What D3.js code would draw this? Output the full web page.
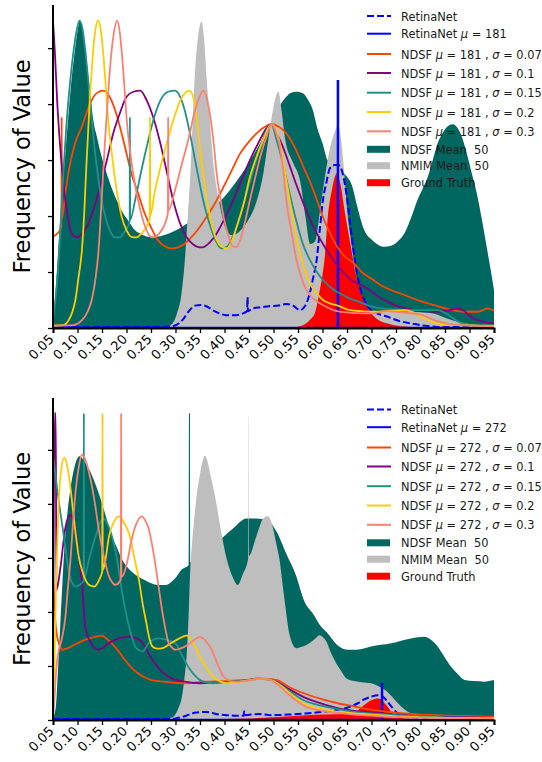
<!DOCTYPE html>
<html>
<head>
<meta charset="utf-8">
<script src="https://cdn.jsdelivr.net/npm/d3@7"></script>
<style>
  body { margin: 0; background: #fff; }
  svg { display: block; font-family: "DejaVu Sans", sans-serif; }
</style>
</head>
<body>
<svg id="chart" width="542" height="762"></svg>
<script>
// ---- x ticks (score threshold) ----
const xTicks = [0.05, 0.10, 0.15, 0.20, 0.25, 0.30, 0.35, 0.40, 0.45, 0.50,
                0.55, 0.60, 0.65, 0.70, 0.75, 0.80, 0.85, 0.90, 0.95];
const yTicks = [0, 1, 2, 3, 4, 5];
const sigmas = ["0.07", "0.1", "0.15", "0.2", "0.3"];
const muTop = 181, muBottom = 272;

// ---- upper panel series: [score, frequency] ----
const topNdsfMean = [[0.05,0.1],[0.053,0.4],[0.06,1.3],[0.0675,2.29],[0.075,3.1],[0.0812,3.77],[0.088,4.45],[0.0947,4.96],[0.1,5.3],[0.105,5.49],[0.11,5.35],[0.1153,5.02],[0.1255,4.25],[0.1323,3.71],[0.14,3.4],[0.1493,3.06],[0.16,2.75],[0.169,2.52],[0.18,2.28],[0.19,2.1],[0.205,1.9],[0.217,1.75],[0.23,1.68],[0.244,1.63],[0.26,1.63],[0.278,1.66],[0.30,1.74],[0.319,1.84],[0.34,1.95],[0.36,2.05],[0.38,2.18],[0.394,2.29],[0.41,2.45],[0.431,2.7],[0.45,2.95],[0.465,3.18],[0.48,3.42],[0.492,3.6],[0.505,3.85],[0.515,4.0],[0.526,4.13],[0.535,4.2],[0.547,4.22],[0.561,4.19],[0.57,4.08],[0.58,3.9],[0.59,3.55],[0.6,3.3],[0.61,3.0],[0.63,2.85],[0.65,2.7],[0.66,2.55],[0.67,2.2],[0.685,1.75],[0.70,1.58],[0.715,1.48],[0.726,1.45],[0.74,1.47],[0.755,1.56],[0.767,1.69],[0.78,1.95],[0.794,2.29],[0.805,2.5],[0.815,2.7],[0.825,3.0],[0.835,3.3],[0.845,3.48],[0.855,3.6],[0.866,3.64],[0.875,3.58],[0.885,3.4],[0.895,3.1],[0.905,2.75],[0.915,2.4],[0.925,1.95],[0.935,1.45],[0.943,1.05],[0.95,0.68]];
const topNmimMean = [[0.05,0.02],[0.28,0.02],[0.29,0.05],[0.303,0.26],[0.312,0.6],[0.319,1.2],[0.325,2.0],[0.33,2.7],[0.335,3.7],[0.34,4.6],[0.346,5.2],[0.353,5.47],[0.358,5.2],[0.364,4.4],[0.371,3.6],[0.378,2.88],[0.385,2.45],[0.391,2.17],[0.398,1.9],[0.405,1.72],[0.415,1.66],[0.43,1.72],[0.45,1.95],[0.465,2.25],[0.48,2.8],[0.49,3.4],[0.5,3.95],[0.51,4.22],[0.517,3.85],[0.524,3.36],[0.54,2.95],[0.555,2.6],[0.565,2.0],[0.575,1.5],[0.585,1.55],[0.595,2.1],[0.605,2.7],[0.615,3.2],[0.625,3.5],[0.632,3.63],[0.64,3.2],[0.645,2.7],[0.651,2.05],[0.66,1.45],[0.67,0.86],[0.68,0.5],[0.69,0.38],[0.70,0.3],[0.75,0.3],[0.80,0.28],[0.83,0.25],[0.86,0.15],[0.9,0.07],[0.95,0.04]];
const topGroundTruth = [[0.05,0],[0.50,0],[0.54,0.01],[0.56,0.05],[0.575,0.15],[0.585,0.28],[0.595,0.7],[0.60,0.95],[0.605,1.3],[0.61,1.9],[0.62,2.5],[0.629,2.76],[0.636,2.6],[0.645,2.1],[0.658,1.45],[0.668,0.95],[0.678,0.65],[0.69,0.4],[0.70,0.26],[0.715,0.14],[0.733,0.08],[0.76,0.03],[0.80,0.01],[0.95,0]];
const topRetina = [[0.05,0.02],[0.28,0.02],[0.30,0.05],[0.315,0.15],[0.329,0.32],[0.34,0.4],[0.352,0.41],[0.365,0.38],[0.376,0.32],[0.39,0.26],[0.403,0.23],[0.424,0.23],[0.44,0.27],[0.446,0.3],[0.447,0.55],[0.448,0.3],[0.457,0.35],[0.475,0.37],[0.491,0.39],[0.51,0.4],[0.526,0.43],[0.54,0.4],[0.554,0.32],[0.565,0.4],[0.574,0.62],[0.581,0.9],[0.588,1.21],[0.595,1.8],[0.601,2.29],[0.608,2.6],[0.615,2.85],[0.625,2.91],[0.632,2.91],[0.64,2.8],[0.645,2.6],[0.652,2.2],[0.658,1.75],[0.668,1.1],[0.678,0.68],[0.69,0.42],[0.699,0.32],[0.715,0.25],[0.733,0.2],[0.755,0.13],[0.781,0.08],[0.81,0.04],[0.835,0.02],[0.95,0.02]];
const topRetinaMu = [[0.05,0],[0.6315,0],[0.6315,4.43],[0.6315,0],[0.95,0]];
const topSig007 = [[0.05,1.63],[0.058,1.68],[0.0672,1.8],[0.0677,3.77],[0.0682,1.95],[0.075,2.4],[0.0825,2.82],[0.095,3.3],[0.109,3.6],[0.12,3.88],[0.129,4.07],[0.14,4.2],[0.153,4.24],[0.162,4.18],[0.169,4.07],[0.18,3.8],[0.19,3.48],[0.20,3.12],[0.21,2.76],[0.224,2.4],[0.237,2.05],[0.25,1.8],[0.264,1.57],[0.278,1.46],[0.292,1.42],[0.305,1.44],[0.318,1.5],[0.33,1.6],[0.345,1.75],[0.364,1.99],[0.38,2.22],[0.398,2.52],[0.415,2.82],[0.432,3.12],[0.45,3.33],[0.466,3.48],[0.48,3.58],[0.496,3.64],[0.51,3.6],[0.526,3.48],[0.545,3.2],[0.561,2.88],[0.575,2.6],[0.588,2.3],[0.60,2.0],[0.615,1.7],[0.63,1.45],[0.645,1.28],[0.665,1.15],[0.68,1.0],[0.70,0.88],[0.72,0.76],[0.745,0.66],[0.767,0.59],[0.80,0.48],[0.835,0.39],[0.86,0.33],[0.889,0.29],[0.917,0.29],[0.937,0.35],[0.95,0.31]];
const topSig01 = [[0.05,5.49],[0.054,4.9],[0.0584,4.07],[0.065,3.2],[0.072,2.52],[0.079,2.05],[0.0855,1.75],[0.092,1.65],[0.099,1.62],[0.108,1.67],[0.119,1.81],[0.132,2.1],[0.146,2.52],[0.16,3.0],[0.173,3.48],[0.187,3.85],[0.20,4.13],[0.214,4.22],[0.228,4.24],[0.241,4.07],[0.255,3.75],[0.269,3.3],[0.282,2.8],[0.295,2.29],[0.308,1.9],[0.322,1.63],[0.335,1.5],[0.345,1.45],[0.355,1.44],[0.37,1.53],[0.384,1.69],[0.40,1.95],[0.418,2.29],[0.435,2.65],[0.452,3.0],[0.47,3.32],[0.486,3.57],[0.496,3.64],[0.508,3.45],[0.519,3.24],[0.533,2.9],[0.547,2.55],[0.56,2.25],[0.574,1.95],[0.588,1.7],[0.601,1.5],[0.615,1.3],[0.63,1.12],[0.645,0.97],[0.66,0.85],[0.68,0.76],[0.699,0.66],[0.716,0.55],[0.733,0.47],[0.75,0.4],[0.767,0.36],[0.80,0.3],[0.835,0.29],[0.86,0.32],[0.876,0.35],[0.89,0.3],[0.903,0.2],[0.917,0.14],[0.93,0.11],[0.95,0.08]];
const topSig015 = [[0.05,0.15],[0.055,0.5],[0.06,1.0],[0.066,1.9],[0.072,2.9],[0.078,3.7],[0.085,4.4],[0.092,4.95],[0.098,5.3],[0.104,5.49],[0.11,5.35],[0.116,4.95],[0.122,4.4],[0.128,3.8],[0.135,3.2],[0.142,2.7],[0.15,2.25],[0.158,1.95],[0.167,1.72],[0.176,1.62],[0.186,1.62],[0.196,1.72],[0.2065,1.9],[0.207,3.77],[0.2075,1.93],[0.218,2.3],[0.23,2.8],[0.243,3.3],[0.256,3.75],[0.27,4.08],[0.285,4.22],[0.299,4.24],[0.31,4.12],[0.32,3.85],[0.33,3.45],[0.34,3.0],[0.35,2.55],[0.36,2.15],[0.37,1.85],[0.38,1.6],[0.394,1.42],[0.405,1.45],[0.418,1.65],[0.43,1.95],[0.445,2.4],[0.46,2.85],[0.475,3.28],[0.487,3.55],[0.496,3.64],[0.505,3.4],[0.519,2.95],[0.533,2.4],[0.547,1.9],[0.56,1.5],[0.574,1.22],[0.59,0.98],[0.605,0.82],[0.62,0.7],[0.635,0.62],[0.655,0.53],[0.68,0.45],[0.70,0.38],[0.73,0.34],[0.767,0.32],[0.80,0.32],[0.835,0.32],[0.85,0.27],[0.862,0.2],[0.88,0.1],[0.903,0.05],[0.95,0.03]];
const topSig02 = [[0.05,0.04],[0.07,0.05],[0.082,0.14],[0.09,0.3],[0.0957,0.5],[0.102,0.9],[0.109,1.39],[0.114,2.1],[0.118,2.88],[0.122,3.55],[0.125,4.07],[0.129,4.6],[0.132,4.96],[0.137,5.35],[0.142,5.49],[0.147,5.35],[0.152,4.96],[0.157,4.4],[0.162,3.77],[0.169,3.2],[0.176,2.7],[0.183,2.3],[0.19,1.99],[0.2,1.75],[0.21,1.63],[0.22,1.62],[0.23,1.68],[0.2475,1.95],[0.248,3.77],[0.2485,2.0],[0.257,2.4],[0.27,2.9],[0.284,3.36],[0.297,3.75],[0.31,4.07],[0.32,4.2],[0.328,4.24],[0.337,4.1],[0.344,3.7],[0.35,3.18],[0.357,2.7],[0.364,2.29],[0.374,1.85],[0.384,1.57],[0.395,1.45],[0.405,1.42],[0.415,1.55],[0.425,1.81],[0.44,2.25],[0.452,2.7],[0.465,3.05],[0.479,3.36],[0.496,3.64],[0.505,3.55],[0.513,3.3],[0.523,2.8],[0.533,2.29],[0.544,1.75],[0.554,1.33],[0.563,1.05],[0.574,0.8],[0.59,0.6],[0.601,0.5],[0.615,0.44],[0.631,0.4],[0.656,0.32],[0.68,0.3],[0.70,0.29],[0.73,0.3],[0.767,0.32],[0.785,0.28],[0.801,0.2],[0.82,0.12],[0.835,0.08],[0.87,0.05],[0.95,0.04]];
const topSig03 = [[0.05,0.04],[0.09,0.05],[0.109,0.14],[0.12,0.28],[0.129,0.5],[0.137,0.9],[0.143,1.39],[0.148,2.1],[0.153,2.88],[0.158,3.6],[0.164,4.37],[0.169,4.9],[0.174,5.26],[0.181,5.49],[0.186,5.3],[0.19,4.96],[0.195,4.4],[0.2,3.77],[0.208,3.1],[0.217,2.58],[0.227,2.15],[0.238,1.81],[0.252,1.62],[0.262,1.65],[0.272,1.75],[0.2845,2.05],[0.285,3.77],[0.2855,2.1],[0.299,2.46],[0.312,2.9],[0.326,3.36],[0.34,3.89],[0.35,4.15],[0.357,4.24],[0.364,4.1],[0.371,3.77],[0.378,3.3],[0.384,2.76],[0.391,2.35],[0.398,1.99],[0.408,1.65],[0.418,1.45],[0.425,1.45],[0.432,1.57],[0.442,1.9],[0.452,2.29],[0.463,2.7],[0.473,3.06],[0.485,3.4],[0.496,3.64],[0.505,3.5],[0.513,3.24],[0.52,2.8],[0.526,2.29],[0.537,1.7],[0.547,1.21],[0.557,0.9],[0.567,0.68],[0.585,0.5],[0.601,0.41],[0.629,0.3],[0.66,0.27],[0.70,0.26],[0.73,0.3],[0.76,0.28],[0.80,0.24],[0.835,0.12],[0.87,0.06],[0.95,0.03]];

// ---- lower panel series ----
const botNdsfMean = [[0.05,0.05],[0.0555,0.22],[0.06,0.9],[0.0645,1.7],[0.069,2.5],[0.0737,3.24],[0.0785,3.75],[0.0839,4.17],[0.0941,4.69],[0.104,4.88],[0.1143,4.78],[0.125,4.62],[0.1347,4.41],[0.145,4.15],[0.155,3.86],[0.169,3.43],[0.18,3.2],[0.1898,2.99],[0.2,2.85],[0.21,2.75],[0.237,2.59],[0.264,2.5],[0.28,2.5],[0.292,2.56],[0.302,2.65],[0.312,2.78],[0.327,2.87],[0.3275,5.68],[0.3295,5.68],[0.330,2.92],[0.34,3.0],[0.36,3.1],[0.38,3.25],[0.394,3.36],[0.418,3.55],[0.445,3.73],[0.466,3.73],[0.486,3.7],[0.506,3.49],[0.527,3.06],[0.545,2.7],[0.563,2.2],[0.582,1.95],[0.597,1.73],[0.609,1.62],[0.631,1.38],[0.652,1.3],[0.67,1.3],[0.699,1.36],[0.74,1.42],[0.781,1.51],[0.808,1.54],[0.822,1.48],[0.835,1.36],[0.848,1.18],[0.862,0.99],[0.876,0.85],[0.89,0.74],[0.91,0.72],[0.93,0.71],[0.95,0.74]];
const botNmimMean = [[0.05,0.01],[0.27,0.01],[0.285,0.03],[0.2955,0.06],[0.305,0.2],[0.313,0.43],[0.318,0.75],[0.323,1.23],[0.327,2.0],[0.33,2.78],[0.334,3.3],[0.337,3.6],[0.343,4.14],[0.35,4.55],[0.356,4.82],[0.36,4.89],[0.365,4.8],[0.37,4.6],[0.377,4.3],[0.384,3.98],[0.39,3.65],[0.397,3.3],[0.404,3.0],[0.41,2.81],[0.418,2.62],[0.427,2.5],[0.437,2.69],[0.4485,3.0],[0.449,5.62],[0.4495,5.62],[0.45,3.04],[0.466,3.43],[0.479,3.73],[0.489,3.77],[0.499,3.55],[0.506,3.25],[0.513,2.93],[0.518,2.55],[0.523,2.19],[0.533,1.57],[0.547,1.33],[0.556,1.35],[0.567,1.39],[0.582,1.48],[0.594,1.57],[0.6,1.54],[0.608,1.45],[0.617,1.25],[0.628,1.05],[0.64,0.88],[0.649,0.77],[0.665,0.72],[0.68,0.7],[0.699,0.68],[0.715,0.62],[0.727,0.56],[0.74,0.45],[0.754,0.31],[0.767,0.2],[0.781,0.12],[0.808,0.06],[0.85,0.03],[0.95,0.02]];
const botGroundTruth = [[0.05,0],[0.30,0],[0.35,0.01],[0.40,0.02],[0.45,0.03],[0.5,0.05],[0.55,0.08],[0.6,0.1],[0.65,0.11],[0.67,0.16],[0.68,0.24],[0.69,0.31],[0.70,0.37],[0.713,0.4],[0.72,0.38],[0.727,0.31],[0.735,0.22],[0.742,0.13],[0.75,0.07],[0.77,0.03],[0.8,0.02],[0.9,0.01],[0.95,0]];
const botRetina = [[0.05,0.02],[0.29,0.02],[0.305,0.04],[0.315,0.06],[0.328,0.1],[0.342,0.14],[0.362,0.15],[0.375,0.13],[0.389,0.1],[0.405,0.09],[0.423,0.08],[0.439,0.08],[0.44,0.16],[0.441,0.09],[0.47,0.11],[0.495,0.09],[0.53,0.1],[0.563,0.12],[0.6,0.15],[0.631,0.19],[0.655,0.24],[0.672,0.31],[0.685,0.38],[0.699,0.43],[0.713,0.46],[0.72,0.45],[0.727,0.4],[0.736,0.3],[0.746,0.19],[0.756,0.1],[0.767,0.06],[0.8,0.04],[0.835,0.03],[0.95,0.02]];
const botRetinaMu = [[0.05,0],[0.7215,0],[0.7215,0.69],[0.7215,0],[0.95,0]];
const botSig007 = [[0.05,2.6],[0.0525,2.16],[0.056,1.7],[0.061,1.45],[0.0697,1.3],[0.08,1.33],[0.1,1.42],[0.12,1.5],[0.1365,1.54],[0.15,1.56],[0.16,1.5],[0.17,1.42],[0.184,1.27],[0.197,1.11],[0.21,0.97],[0.224,0.86],[0.237,0.79],[0.251,0.74],[0.278,0.71],[0.319,0.68],[0.36,0.71],[0.40,0.72],[0.44,0.74],[0.47,0.77],[0.49,0.76],[0.508,0.74],[0.53,0.62],[0.563,0.49],[0.6,0.38],[0.631,0.31],[0.665,0.25],[0.699,0.19],[0.733,0.15],[0.767,0.12],[0.8,0.1],[0.835,0.09],[0.9,0.07],[0.95,0.06]];
const botSig01 = [[0.05,0.3],[0.0535,5.68],[0.0555,5.68],[0.057,2.4],[0.065,2.81],[0.0751,3.55],[0.0853,3.8],[0.0955,3.55],[0.103,3.0],[0.109,2.56],[0.116,1.7],[0.126,1.45],[0.1431,1.3],[0.1635,1.42],[0.184,1.51],[0.2,1.54],[0.214,1.53],[0.231,1.45],[0.251,1.14],[0.272,0.9],[0.292,0.77],[0.319,0.71],[0.35,0.68],[0.40,0.7],[0.44,0.73],[0.47,0.76],[0.49,0.75],[0.508,0.7],[0.53,0.58],[0.563,0.42],[0.6,0.3],[0.631,0.22],[0.665,0.17],[0.699,0.14],[0.733,0.11],[0.767,0.09],[0.8,0.07],[0.85,0.06],[0.95,0.04]];
const botSig015 = [[0.05,4.9],[0.0557,4.48],[0.0625,4.0],[0.0698,3.55],[0.0765,3.1],[0.0833,2.69],[0.09,2.52],[0.0969,2.47],[0.104,2.5],[0.1125,2.58],[0.113,5.68],[0.1135,2.62],[0.124,2.99],[0.138,3.43],[0.152,3.73],[0.165,3.55],[0.179,3.06],[0.192,2.31],[0.206,1.7],[0.22,1.33],[0.233,1.27],[0.245,1.42],[0.265,1.51],[0.286,1.47],[0.30,1.42],[0.313,1.2],[0.325,1.0],[0.337,0.85],[0.354,0.72],[0.376,0.68],[0.40,0.7],[0.44,0.73],[0.47,0.76],[0.49,0.75],[0.508,0.69],[0.53,0.55],[0.563,0.36],[0.6,0.26],[0.631,0.2],[0.665,0.15],[0.699,0.12],[0.733,0.1],[0.767,0.08],[0.8,0.07],[0.85,0.05],[0.95,0.04]];
const botSig02 = [[0.05,0.05],[0.0525,0.8],[0.0557,2.31],[0.0595,3.5],[0.0625,4.17],[0.067,4.65],[0.0727,4.85],[0.078,4.75],[0.083,4.48],[0.09,3.95],[0.0965,3.43],[0.103,3.0],[0.11,2.75],[0.117,2.58],[0.124,2.5],[0.134,2.47],[0.1445,2.6],[0.1505,2.75],[0.151,5.68],[0.1515,2.78],[0.155,2.87],[0.165,3.43],[0.175,3.68],[0.185,3.77],[0.195,3.65],[0.206,3.43],[0.216,3.0],[0.226,2.56],[0.233,2.15],[0.24,1.82],[0.247,1.5],[0.253,1.36],[0.263,1.32],[0.274,1.33],[0.287,1.4],[0.3,1.47],[0.312,1.53],[0.323,1.56],[0.335,1.45],[0.35,1.17],[0.364,0.95],[0.377,0.8],[0.39,0.72],[0.404,0.68],[0.44,0.72],[0.47,0.76],[0.49,0.75],[0.508,0.68],[0.53,0.52],[0.563,0.3],[0.6,0.2],[0.631,0.15],[0.665,0.12],[0.699,0.1],[0.733,0.08],[0.767,0.06],[0.8,0.05],[0.85,0.04],[0.95,0.03]];
const botSig03 = [[0.05,0.02],[0.0525,0.3],[0.0565,0.93],[0.062,1.3],[0.068,1.5],[0.0752,1.9],[0.08,2.4],[0.0854,2.93],[0.0905,3.6],[0.0955,4.17],[0.102,4.65],[0.109,4.91],[0.116,4.82],[0.123,4.6],[0.13,4.3],[0.136,3.98],[0.143,3.55],[0.15,3.18],[0.157,2.9],[0.163,2.69],[0.17,2.56],[0.177,2.5],[0.1885,2.6],[0.189,5.68],[0.1895,2.65],[0.194,2.69],[0.202,2.95],[0.211,3.36],[0.221,3.65],[0.231,3.77],[0.238,3.7],[0.245,3.55],[0.252,3.25],[0.258,2.93],[0.265,2.5],[0.272,2.07],[0.279,1.7],[0.285,1.45],[0.292,1.35],[0.299,1.3],[0.309,1.32],[0.323,1.38],[0.338,1.48],[0.35,1.54],[0.36,1.48],[0.374,1.3],[0.385,1.05],[0.397,0.82],[0.408,0.74],[0.418,0.71],[0.44,0.72],[0.47,0.76],[0.49,0.75],[0.508,0.66],[0.53,0.48],[0.563,0.26],[0.6,0.17],[0.631,0.13],[0.665,0.1],[0.699,0.08],[0.733,0.06],[0.767,0.05],[0.8,0.04],[0.85,0.03],[0.95,0.03]];

// ---- styling ----
const C = {
  retina: "#0000ff", s007: "#ff4500", s01: "#800080", s015: "#22908a",
  s02: "#ffcc00", s03: "#fa8072", ndsfMean: "#006660", nmimMean: "#bebebe", truth: "#ff0000"
};

const svg = d3.select("#chart");
const plotLeft = 53, plotRight = 494;
const x = d3.scaleLinear().domain([0.05, 0.95]).range([plotLeft, plotRight]);

const panels = [
  { top: 5, bottom: 328, ymax: 5.77, mu: muTop, legendY: 16,
    ndsfMean: topNdsfMean, nmimMean: topNmimMean, truth: topGroundTruth,
    retina: topRetina, retinaMu: topRetinaMu,
    sig: [topSig007, topSig01, topSig015, topSig02, topSig03] },
  { top: 398, bottom: 720, ymax: 5.96, mu: muBottom, legendY: 409.5,
    ndsfMean: botNdsfMean, nmimMean: botNmimMean, truth: botGroundTruth,
    retina: botRetina, retinaMu: botRetinaMu,
    sig: [botSig007, botSig01, botSig015, botSig02, botSig03] }
];
const sigColors = [C.s007, C.s01, C.s015, C.s02, C.s03];

panels.forEach((p, i) => {
  const y = d3.scaleLinear().domain([0, p.ymax]).range([p.bottom, p.top]);
  const g = svg.append("g");

  const clipId = "clip" + i;
  svg.append("defs").append("clipPath").attr("id", clipId)
    .append("rect").attr("x", plotLeft).attr("y", p.top - 2)
    .attr("width", plotRight - plotLeft).attr("height", p.bottom - p.top + 2);
  const plot = g.append("g").attr("clip-path", `url(#${clipId})`);

  const area = d3.area().x(d => x(d[0])).y0(y(0)).y1(d => y(d[1])).curve(d3.curveMonotoneX);
  const smooth = d3.line().x(d => x(d[0])).y(d => y(d[1])).curve(d3.curveMonotoneX);
  const straight = d3.line().x(d => x(d[0])).y(d => y(d[1]));

  plot.append("path").datum(p.ndsfMean).attr("d", area).attr("fill", C.ndsfMean);
  plot.append("path").datum(p.nmimMean).attr("d", area).attr("fill", C.nmimMean);
  plot.append("path").datum(p.truth).attr("d", area).attr("fill", C.truth);

  plot.append("path").datum(p.retina).attr("d", smooth).attr("fill", "none")
    .attr("stroke", C.retina).attr("stroke-width", 2).attr("stroke-dasharray", "7,3");
  plot.append("path").datum(p.retinaMu).attr("d", straight).attr("fill", "none")
    .attr("stroke", C.retina).attr("stroke-width", 2.5);
  p.sig.forEach((s, k) => {
    plot.append("path").datum(s).attr("d", smooth).attr("fill", "none")
      .attr("stroke", sigColors[k]).attr("stroke-width", 1.8).attr("stroke-linejoin", "round");
  });

  // axes
  const xAxis = d3.axisBottom(x).tickValues(xTicks).tickSize(5).tickFormat(d3.format(".2f"));
  const xg = g.append("g").attr("transform", `translate(0,${p.bottom})`).call(xAxis);
  xg.select(".domain").attr("stroke", "#000").attr("stroke-width", 2);
  xg.selectAll(".tick line").attr("stroke", "#000").attr("stroke-width", 1.3);
  xg.selectAll(".tick text")
    .attr("font-family", "DejaVu Sans").attr("font-size", 13).attr("fill", "#000")
    .attr("text-anchor", "end").attr("dy", null).attr("y", null)
    .attr("transform", "translate(1,12) rotate(-45)");

  const yAxis = d3.axisLeft(y).tickValues(yTicks).tickSize(5).tickFormat("");
  const yg = g.append("g").attr("transform", `translate(${plotLeft},0)`).call(yAxis);
  yg.select(".domain").attr("stroke", "#000").attr("stroke-width", 2)
    .attr("d", `M0,${p.top}V${p.bottom}`);
  yg.selectAll(".tick line").attr("stroke", "#000").attr("stroke-width", 1.3);

  g.append("text").attr("transform", `translate(30,${(p.top + p.bottom) / 2}) rotate(-90)`)
    .attr("text-anchor", "middle").attr("font-size", 22.5).attr("fill", "#000")
    .text("Frequency of Value");

  // legend
  const rowOffsets = [0, 17.7, 38, 57, 76.7, 96, 115.3, 133.3, 149.7, 166.7];
  const items = [
    { kind: "dash", color: C.retina, parts: [["RetinaNet", false]] },
    { kind: "line", color: C.retina, parts: [["RetinaNet ", false], ["μ", true], [" = " + p.mu, false]] }
  ];
  sigmas.forEach((s, k) => items.push({
    kind: "line", color: sigColors[k],
    parts: [["NDSF ", false], ["μ", true], [" = " + p.mu + " , ", false], ["σ", true], [" = " + s, false]]
  }));
  items.push({ kind: "patch", color: C.ndsfMean, parts: [["NDSF Mean\u00a0\u00a050", false]] });
  items.push({ kind: "patch", color: C.nmimMean, parts: [["NMIM Mean\u00a0\u00a050", false]] });
  items.push({ kind: "patch", color: C.truth, parts: [["Ground Truth", false]] });

  const lg = g.append("g");
  items.forEach((it, k) => {
    const cy = p.legendY + rowOffsets[k];
    if (it.kind === "patch") {
      lg.append("rect").attr("x", 367).attr("y", cy - 3.5).attr("width", 23).attr("height", 7).attr("fill", it.color);
    } else {
      lg.append("line").attr("x1", 367).attr("x2", 391).attr("y1", cy).attr("y2", cy)
        .attr("stroke", it.color).attr("stroke-width", 2)
        .attr("stroke-dasharray", it.kind === "dash" ? "7,3" : null);
    }
    const t = lg.append("text").attr("x", 401).attr("y", cy + 4.5).attr("font-size", 11.4).attr("fill", "#1a1a1a")
      .attr("xml:space", "preserve");
    it.parts.forEach(([txt, ital]) => {
      t.append("tspan").attr("font-style", ital ? "italic" : null).text(txt);
    });
  });
});
</script>
</body>
</html>
